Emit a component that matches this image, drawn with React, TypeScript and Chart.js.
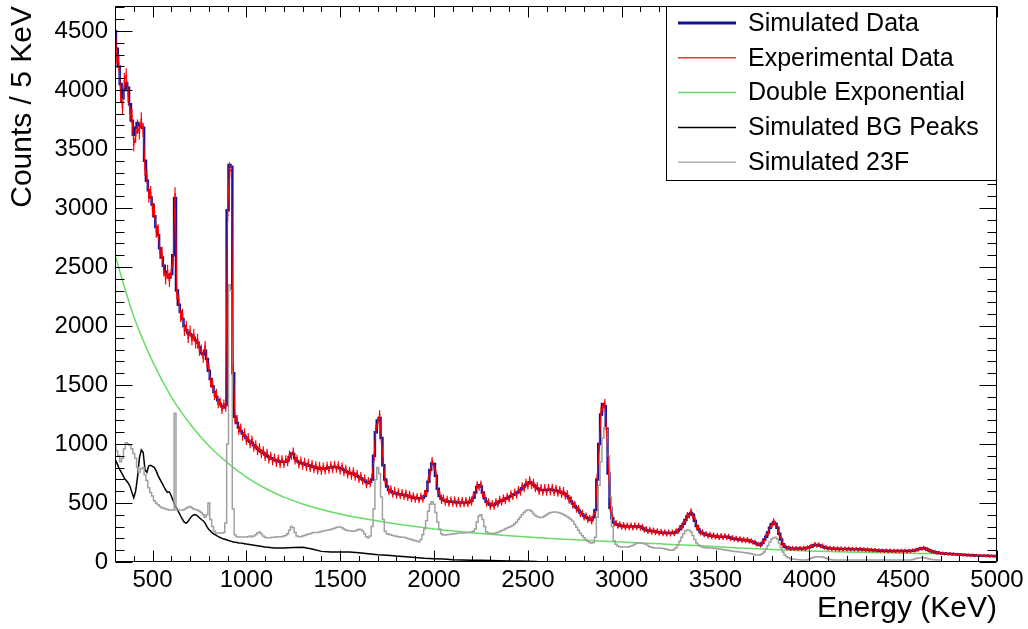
import React, { useEffect, useRef } from "react";
import { Chart, registerables } from "chart.js";

Chart.register(...registerables);

const FONT = "'Liberation Sans', Arial, Helvetica, sans-serif";

// Histogram binning (keV) used for the spectra below
const BIN_START = 300;
const BIN_WIDTH = 10;

// Simulated total spectrum, counts / 5 keV, bins centred at 300, 310, ... 5000 keV
const simulated = [
  4500, 4350, 4200, 4050, 3930, 4000, 4060, 4020, 3880, 3740,
  3620, 3680, 3720, 3700, 3690, 3680, 3400, 3230, 3150, 3090,
  3030, 2930, 2840, 2770, 2660, 2580, 2510, 2460, 2430, 2410,
  2440, 2600, 3085, 2300, 2180, 2120, 2060, 2000, 1965, 1940,
  1930, 1920, 1900, 1880, 1860, 1820, 1770, 1760, 1790, 1720,
  1620, 1550, 1490, 1440, 1400, 1370, 1340, 1320, 1310, 1330,
  2980, 3365, 3350, 1600, 1230, 1180, 1140, 1110, 1090, 1070,
  1050, 1030, 1020, 1010, 990, 975, 960, 945, 935, 925,
  910, 900, 890, 880, 875, 865, 860, 855, 850, 850,
  850, 850, 860, 890, 920, 915, 880, 855, 845, 840,
  835, 830, 825, 820, 815, 810, 805, 800, 795, 795,
  790, 790, 790, 795, 800, 800, 805, 805, 805, 800,
  795, 790, 780, 770, 760, 755, 750, 750, 740, 730,
  720, 710, 700, 690, 675, 670, 680, 700, 900, 1100,
  1200, 1220, 1050, 820, 700, 640, 610, 600, 590, 585,
  580, 575, 575, 570, 570, 565, 560, 555, 550, 545,
  545, 540, 540, 540, 545, 560, 600, 680, 780, 835,
  830, 730, 620, 560, 535, 525, 520, 515, 510, 510,
  510, 510, 505, 505, 505, 505, 505, 505, 505, 510,
  520, 545, 590, 635, 650, 640, 590, 540, 510, 495,
  485, 480, 485, 495, 505, 515, 520, 525, 535, 540,
  550, 560, 570, 575, 585, 595, 610, 625, 640, 655,
  665, 675, 670, 655, 640, 625, 615, 610, 610, 610,
  610, 612, 615, 612, 608, 605, 600, 595, 590, 585,
  575, 560, 540, 515, 495, 475, 460, 440, 420, 405,
  390, 380, 370, 360, 355, 380, 440, 700, 1000, 1250,
  1340, 1320, 1130, 750, 460, 370, 335, 320, 315, 310,
  305, 305, 300, 300, 300, 300, 300, 300, 300, 300,
  298, 290, 280, 272, 268, 265, 262, 260, 258, 255,
  252, 250, 248, 247, 246, 245, 245, 245, 248, 255,
  265, 280, 300, 325, 355, 385, 405, 415, 400, 350,
  305, 275, 255, 245, 238, 232, 228, 225, 222, 220,
  218, 216, 215, 215, 215, 214, 213, 210, 205, 200,
  198, 195, 192, 190, 188, 186, 185, 184, 180, 175,
  170, 163, 155, 148, 145, 160, 190, 215, 250, 290,
  320, 335, 325, 290, 240, 190, 150, 130, 122, 118,
  115, 115, 114, 114, 114, 114, 114, 115, 117, 120,
  125, 132, 140, 145, 145, 142, 138, 132, 125, 120,
  117, 115, 114, 113, 112, 112, 111, 111, 110, 110,
  110, 110, 109, 109, 108, 108, 107, 107, 106, 105,
  104, 103, 102, 101, 100, 99, 98, 97, 96, 96,
  95, 95, 95, 94, 94, 94, 93, 93, 93, 93,
  93, 93, 93, 94, 95, 96, 98, 102, 107, 112,
  116, 116, 112, 105, 98, 92, 87, 83, 80, 77,
  75, 73, 71, 70, 69, 68, 67, 66, 65, 64,
  63, 62, 61, 60, 59, 58, 58, 57, 56, 56,
  55, 54, 54, 53, 52, 52, 51, 50, 50, 49,
  49,
];

// Experimental spectrum, same bins
const experimental = [
  4560, 4290, 4230, 3960, 3850, 4080, 4120, 3960, 3800, 3780,
  3540, 3610, 3690, 3640, 3750, 3660, 3330, 3270, 3100, 3130,
  2990, 2970, 2800, 2810, 2620, 2620, 2470, 2400, 2470, 2380,
  2470, 2560, 3120, 2270, 2220, 2080, 2100, 1960, 2000, 1900,
  1960, 1880, 1930, 1850, 1890, 1790, 1800, 1730, 1830, 1690,
  1650, 1520, 1510, 1410, 1430, 1340, 1360, 1290, 1340, 1310,
  2940, 3330, 3310, 1640, 1200, 1210, 1110, 1140, 1060, 1100,
  1025, 1060, 995, 1040, 965, 1000, 935, 975, 910, 950,
  885, 930, 865, 905, 850, 890, 835, 880, 825, 875,
  825, 875, 840, 915, 895, 940, 855, 880, 820, 865,
  810, 855, 800, 845, 790, 835, 780, 825, 770, 820,
  765, 815, 770, 820, 775, 825, 780, 830, 785, 825,
  770, 815, 755, 795, 735, 780, 725, 775, 715, 755,
  695, 735, 680, 715, 650, 695, 660, 725, 880, 1130,
  1175, 1250, 1025, 845, 680, 665, 590, 625, 570, 610,
  560, 600, 555, 595, 548, 590, 540, 580, 530, 568,
  525, 562, 520, 563, 525, 585, 580, 705, 760, 860,
  805, 755, 600, 583, 515, 548, 500, 538, 490, 533,
  490, 532, 486, 528, 484, 527, 485, 528, 487, 532,
  498, 568, 568, 660, 628, 665, 568, 563, 490, 518,
  465, 502, 465, 518, 484, 538, 498, 548, 513, 563,
  527, 584, 548, 599, 562, 620, 586, 650, 616, 680,
  640, 700, 645, 680, 615, 650, 590, 635, 586, 635,
  586, 636, 590, 637, 584, 630, 576, 620, 566, 610,
  552, 584, 517, 538, 473, 497, 438, 462, 400, 425,
  370, 400, 350, 380, 336, 400, 420, 725, 975, 1275,
  1310, 1345, 1100, 775, 440, 390, 318, 338, 298, 328,
  290, 322, 284, 317, 286, 316, 283, 318, 285, 315,
  282, 306, 265, 288, 253, 281, 247, 276, 243, 270,
  238, 265, 234, 262, 232, 260, 231, 260, 234, 270,
  250, 296, 284, 343, 338, 404, 388, 435, 382, 368,
  290, 292, 240, 261, 224, 247, 214, 240, 208, 235,
  204, 231, 201, 230, 201, 229, 199, 225, 192, 214,
  185, 209, 179, 204, 175, 200, 172, 198, 168, 188,
  158, 176, 143, 160, 134, 172, 178, 230, 236, 306,
  305, 352, 310, 306, 226, 204, 138, 142, 111, 129,
  104, 126, 104, 125, 103, 125, 103, 126, 106, 131,
  114, 143, 129, 157, 133, 154, 127, 144, 114, 131,
  106, 126, 103, 124, 101, 123, 100, 122, 100, 120,
  100, 120, 99, 119, 98, 118, 97, 117, 96, 115,
  94, 113, 92, 111, 90, 109, 89, 106, 87, 105,
  86, 104, 86, 103, 85, 103, 84, 102, 84, 102,
  84, 102, 84, 103, 86, 105, 89, 111, 98, 121,
  106, 126, 102, 114, 89, 101, 79, 91, 72, 85,
  68, 80, 64, 77, 62, 75, 60, 73, 58, 71,
  57, 69, 55, 67, 53, 65, 52, 64, 50, 62,
  49, 60, 48, 59, 46, 58, 45, 56, 45, 55,
  44,
];

// Simulated 23F component, same bins, 300 ... 4700 keV
const sim23F = [
  975, 940, 900, 850, 880, 960, 1010, 1000, 990, 960,
  920, 880, 800, 760, 790, 800, 740, 690, 630, 590,
  560, 520, 500, 485, 470, 460, 455, 450, 445, 440,
  440, 440, 1260, 440, 440, 440, 440, 445, 455, 465,
  470, 460, 450, 445, 440, 430, 420, 400, 380, 400,
  500, 360, 300, 260, 245, 245, 245, 245, 250, 330,
  1000, 2350, 2300, 450, 230, 215, 212, 212, 212, 212,
  212, 215, 220, 215, 220, 230, 245, 255, 240, 220,
  210, 205, 205, 205, 210, 210, 212, 215, 215, 215,
  220, 225, 240, 270, 300, 290, 250, 220, 215, 215,
  220, 225, 230, 235, 240, 245, 250, 250, 250, 255,
  258, 262, 266, 270, 272, 275, 280, 285, 292, 297,
  297, 290, 280, 272, 268, 265, 262, 260, 262, 270,
  278, 275, 262, 240, 215, 205, 220, 300, 450, 700,
  800, 750, 550, 360, 260, 240, 235, 230, 225, 220,
  218, 215, 212, 210, 210, 205, 200, 195, 190, 185,
  180, 175, 172, 190, 230, 280, 350, 430, 490, 510,
  490, 420, 340, 280, 240, 228, 228, 230, 232, 235,
  238, 240, 242, 245, 245, 245, 245, 248, 250, 252,
  255, 260, 280, 340, 390, 400, 360, 300, 255, 245,
  242, 242, 243, 245, 250, 258, 265, 272, 280, 288,
  295, 300, 310, 325, 340, 360, 380, 400, 420, 435,
  440, 440, 430, 410, 395, 385, 380, 378, 380, 390,
  400, 410, 418, 422, 424, 424, 420, 415, 410, 402,
  395, 385, 372, 360, 345, 320, 295, 270, 245, 225,
  205, 190, 175, 165, 160, 165, 210, 380, 650, 850,
  1050, 1140, 1120, 900, 550, 300, 180, 150, 135, 130,
  128, 127, 127, 128, 130, 135, 140, 150, 158, 160,
  160, 158, 155, 150, 140, 130, 125, 120, 118, 118,
  118, 117, 115, 112, 108, 104, 100, 100, 105, 120,
  145, 175, 210, 240, 262, 271, 270, 255, 225, 190,
  160, 145, 135, 128, 122, 120, 118, 118, 118, 117,
  115, 112, 110, 108, 105, 102, 100, 98, 95, 92,
  90, 88, 86, 85, 82, 80, 78, 76, 74, 70,
  66, 62, 60, 59, 62, 70, 85, 110, 140, 170,
  195, 205, 210, 195, 160, 120, 85, 60, 45, 35,
  28, 25, 24, 22, 20, 19, 18, 18, 18, 20,
  25, 32, 38, 42, 44, 44, 43, 42, 38, 32,
  26, 22, 20, 18, 18, 17, 17, 17, 16, 16,
  16, 16, 16, 16, 16, 16, 16, 16, 16, 16,
  16, 16, 16, 16, 16, 17, 17, 17, 17, 17,
  17, 17, 17, 17, 17, 17, 17, 17, 17, 17,
  18, 18, 18, 18, 18, 20, 25, 30, 34, 36,
  37, 36, 34, 30, 25, 22, 20, 19, 18, 17,
  17,
];

// Simulated background peaks (keV, counts)
const bgEnergy = [
  300, 310, 320, 330, 340, 350, 360, 370, 380, 390,
  400, 410, 420, 430, 440, 450, 460, 470, 480, 490,
  500, 510, 520, 530, 540, 550, 560, 570, 580, 590,
  600, 610, 620, 630, 640, 650, 660, 670, 680, 690,
  700, 710, 720, 730, 740, 750, 760, 770, 780, 790,
  800, 810, 820, 830, 840, 850, 860, 870, 880, 890,
  900, 910, 920, 930, 940, 950, 960, 970, 980, 990,
  1000, 1050, 1100, 1150, 1200, 1250, 1300, 1350, 1400, 1450,
  1500, 1550, 1600, 1650, 1700, 1750, 1800, 1850, 1900, 1950,
  2000, 2050, 2100, 2150, 2200, 2250, 2300, 2350, 2400, 2450,
  2500, 2550,
];
const bgCounts = [
  870, 840, 800, 770, 740, 710, 690, 670, 640, 590,
  545, 600, 720, 880, 950, 930, 780, 760, 815, 820,
  810, 800, 770, 730, 700, 670, 640, 610, 590, 595,
  560, 520, 480, 450, 420, 390, 360, 335, 330, 345,
  370, 390, 400, 400, 390, 375, 360, 350, 330, 300,
  275, 260, 245, 235, 225, 215, 208, 200, 195, 190,
  185, 180, 175, 170, 168, 165, 162, 160, 158, 155,
  152, 140, 128, 118, 118, 122, 125, 110, 90, 85,
  85, 85, 78, 70, 62, 58, 50, 45, 38, 32,
  28, 25, 20, 18, 15, 14, 12, 10, 9, 8,
  7, 5,
];

// Double exponential background (keV, counts)
const dexpEnergy = [
  300, 400, 500, 600, 700, 800, 900, 1000, 1100, 1200,
  1300, 1400, 1500, 1600, 1700, 1800, 1900, 2000, 2200, 2400,
  2600, 2800, 3000, 3200, 3400, 3600, 3800, 4000, 4200, 4400,
  4600, 4700,
];
const dexpCounts = [
  2600, 2080, 1700, 1400, 1170, 985, 840, 720, 625, 550,
  492, 445, 407, 375, 348, 323, 300, 280, 248, 222,
  201, 184, 169, 154, 139, 121, 105, 93, 85, 79,
  73, 70,
];

const xTickValues = [500, 1000, 1500, 2000, 2500, 3000, 3500, 4000, 4500, 5000];
const yTickValues = [0, 500, 1000, 1500, 2000, 2500, 3000, 3500, 4000, 4500];

const legendItems = [
  { label: "Simulated Data", color: "#10109a", width: 3 },
  { label: "Experimental Data", color: "#ee3333", width: 1.5 },
  { label: "Double Exponential", color: "#66dd66", width: 1.5 },
  { label: "Simulated BG Peaks", color: "#000000", width: 1.5 },
  { label: "Simulated 23F", color: "#a0a0a0", width: 1.2 },
];

const binEnergy = (i: number) => BIN_START + i * BIN_WIDTH;

const rootStyle = {
  id: "rootStyle",
  afterDatasetsDraw(chart: any) {
    const { ctx, chartArea: a } = chart;
    const xs = chart.scales.x;
    const ys = chart.scales.y;
    ctx.save();
    ctx.beginPath();
    ctx.rect(a.left, a.top, a.right - a.left, a.bottom - a.top);
    ctx.clip();
    ctx.strokeStyle = "#ff0000";
    // data line through the measured points
    ctx.lineWidth = 1.1;
    ctx.beginPath();
    experimental.forEach((v, i) => {
      const px = xs.getPixelForValue(binEnergy(i));
      const py = ys.getPixelForValue(v);
      if (i === 0) ctx.moveTo(px, py);
      else ctx.lineTo(px, py);
    });
    ctx.stroke();
    // error bars with bin-width marks
    ctx.lineWidth = 1.2;
    ctx.beginPath();
    experimental.forEach((v, i) => {
      const e = binEnergy(i);
      const px = xs.getPixelForValue(e);
      const x0 = xs.getPixelForValue(e - BIN_WIDTH / 2);
      const x1 = xs.getPixelForValue(e + BIN_WIDTH / 2);
      const py = ys.getPixelForValue(v);
      const s = Math.sqrt(v);
      ctx.moveTo(x0, py);
      ctx.lineTo(x1, py);
      ctx.moveTo(px, ys.getPixelForValue(v - s));
      ctx.lineTo(px, ys.getPixelForValue(v + s));
    });
    ctx.stroke();
    ctx.restore();
  },
  afterDraw(chart: any) {
    const { ctx, chartArea: a } = chart;
    const xs = chart.scales.x;
    const ys = chart.scales.y;
    ctx.save();
    ctx.strokeStyle = "#000";
    ctx.lineWidth = 1;
    const L = Math.round(a.left) + 0.5;
    const R = Math.round(a.right) - 0.5;
    const T = Math.round(a.top) + 0.5;
    const B = Math.round(a.bottom) - 0.5;
    ctx.beginPath();
    ctx.rect(L, T, R - L, B - T);
    for (let e = 300; e <= 5000; e += 100) {
      const px = Math.round(xs.getPixelForValue(e)) + 0.5;
      const len = e % 500 === 0 ? 11 : 5.5;
      ctx.moveTo(px, B);
      ctx.lineTo(px, B - len);
      ctx.moveTo(px, T);
      ctx.lineTo(px, T + len);
    }
    for (let v = 0; v <= 4700; v += 100) {
      const py = Math.round(ys.getPixelForValue(v)) + 0.5;
      const len = v % 500 === 0 ? 17 : 9;
      ctx.moveTo(L, py);
      ctx.lineTo(L + len, py);
      ctx.moveTo(R, py);
      ctx.lineTo(R - len, py);
    }
    ctx.stroke();

    // legend box
    const bx = 666.5, by = 6.5, bw = R - 666.5, bh = 174;
    ctx.fillStyle = "#fff";
    ctx.fillRect(bx, by, bw, bh);
    ctx.strokeRect(bx, by, bw, bh);
    ctx.font = `25px ${FONT}`;
    ctx.textBaseline = "middle";
    ctx.textAlign = "left";
    legendItems.forEach((it, i) => {
      const cy = 23 + i * 34.8;
      ctx.strokeStyle = it.color;
      ctx.lineWidth = it.width;
      ctx.beginPath();
      ctx.moveTo(678, cy);
      ctx.lineTo(736, cy);
      ctx.stroke();
      ctx.fillStyle = "#000";
      ctx.fillText(it.label, 748, cy + 1);
    });
    ctx.restore();
  },
};

export default function App() {
  const ref = useRef<HTMLCanvasElement>(null);
  useEffect(() => {
    const canvas = ref.current;
    if (!canvas) return;
    const chart = new Chart(canvas, {
      type: "line",
      data: {
        datasets: [
          {
            label: "Double Exponential",
            data: dexpEnergy.map((e, i) => ({ x: e, y: dexpCounts[i] })),
            borderColor: "#66dd66",
            borderWidth: 1.5,
            pointRadius: 0,
            cubicInterpolationMode: "monotone",
            order: 5,
          },
          {
            label: "Simulated BG Peaks",
            data: bgEnergy.map((e, i) => ({ x: e, y: bgCounts[i] })),
            borderColor: "#000000",
            borderWidth: 1.5,
            pointRadius: 0,
            order: 4,
          },
          {
            label: "Simulated Data",
            data: simulated.map((v, i) => ({ x: binEnergy(i), y: v })),
            borderColor: "#10109a",
            borderWidth: 2.5,
            pointRadius: 0,
            stepped: "middle",
            order: 3,
          },
          {
            label: "Simulated 23F",
            data: sim23F.map((v, i) => ({ x: binEnergy(i), y: v })),
            borderColor: "#a0a0a0",
            borderWidth: 1.5,
            pointRadius: 0,
            stepped: "middle",
            order: 2,
          },
        ],
      },
      options: {
        responsive: false,
        animation: false,
        devicePixelRatio: 1,
        layout: { padding: { top: 6, right: 31, left: 0, bottom: 0 } },
        plugins: { legend: { display: false }, tooltip: { enabled: false } },
        scales: {
          x: {
            type: "linear",
            min: 300,
            max: 5000,
            grid: { display: false, drawTicks: false },
            border: { display: false },
            ticks: {
              font: { family: FONT, size: 24 },
              color: "#000",
              padding: 4,
              maxRotation: 0,
              autoSkip: false,
              callback: (v: any) => String(v),
            },
            afterBuildTicks: (s: any) => {
              s.ticks = xTickValues.map((v) => ({ value: v }));
            },
            afterFit: (s: any) => {
              s.height = 67;
              s.paddingLeft = 0;
              s.paddingRight = 0;
            },
            title: {
              display: true,
              text: "Energy (KeV)",
              align: "end",
              color: "#000",
              font: { family: FONT, size: 30 },
              padding: { top: 0, bottom: 2 },
            },
          },
          y: {
            type: "linear",
            min: 0,
            max: 4712,
            grid: { display: false, drawTicks: false },
            border: { display: false },
            ticks: {
              font: { family: FONT, size: 24 },
              color: "#000",
              padding: 7,
              autoSkip: false,
              callback: (v: any) => String(v),
            },
            afterBuildTicks: (s: any) => {
              s.ticks = yTickValues.map((v) => ({ value: v }));
            },
            afterFit: (s: any) => {
              s.width = 115;
              s.paddingTop = 0;
              s.paddingBottom = 0;
            },
            title: {
              display: true,
              text: "Counts / 5 KeV",
              align: "end",
              color: "#000",
              font: { family: FONT, size: 30 },
              padding: { top: 5, bottom: 0 },
            },
          },
        },
      },
      plugins: [rootStyle],
    } as any);
    return () => chart.destroy();
  }, []);
  return (
    <div style={{ position: "fixed", left: 0, top: 0, width: 1028, height: 629, background: "#fff" }}>
      <canvas ref={ref} width={1028} height={629} style={{ display: "block", width: 1028, height: 629 }} />
    </div>
  );
}
